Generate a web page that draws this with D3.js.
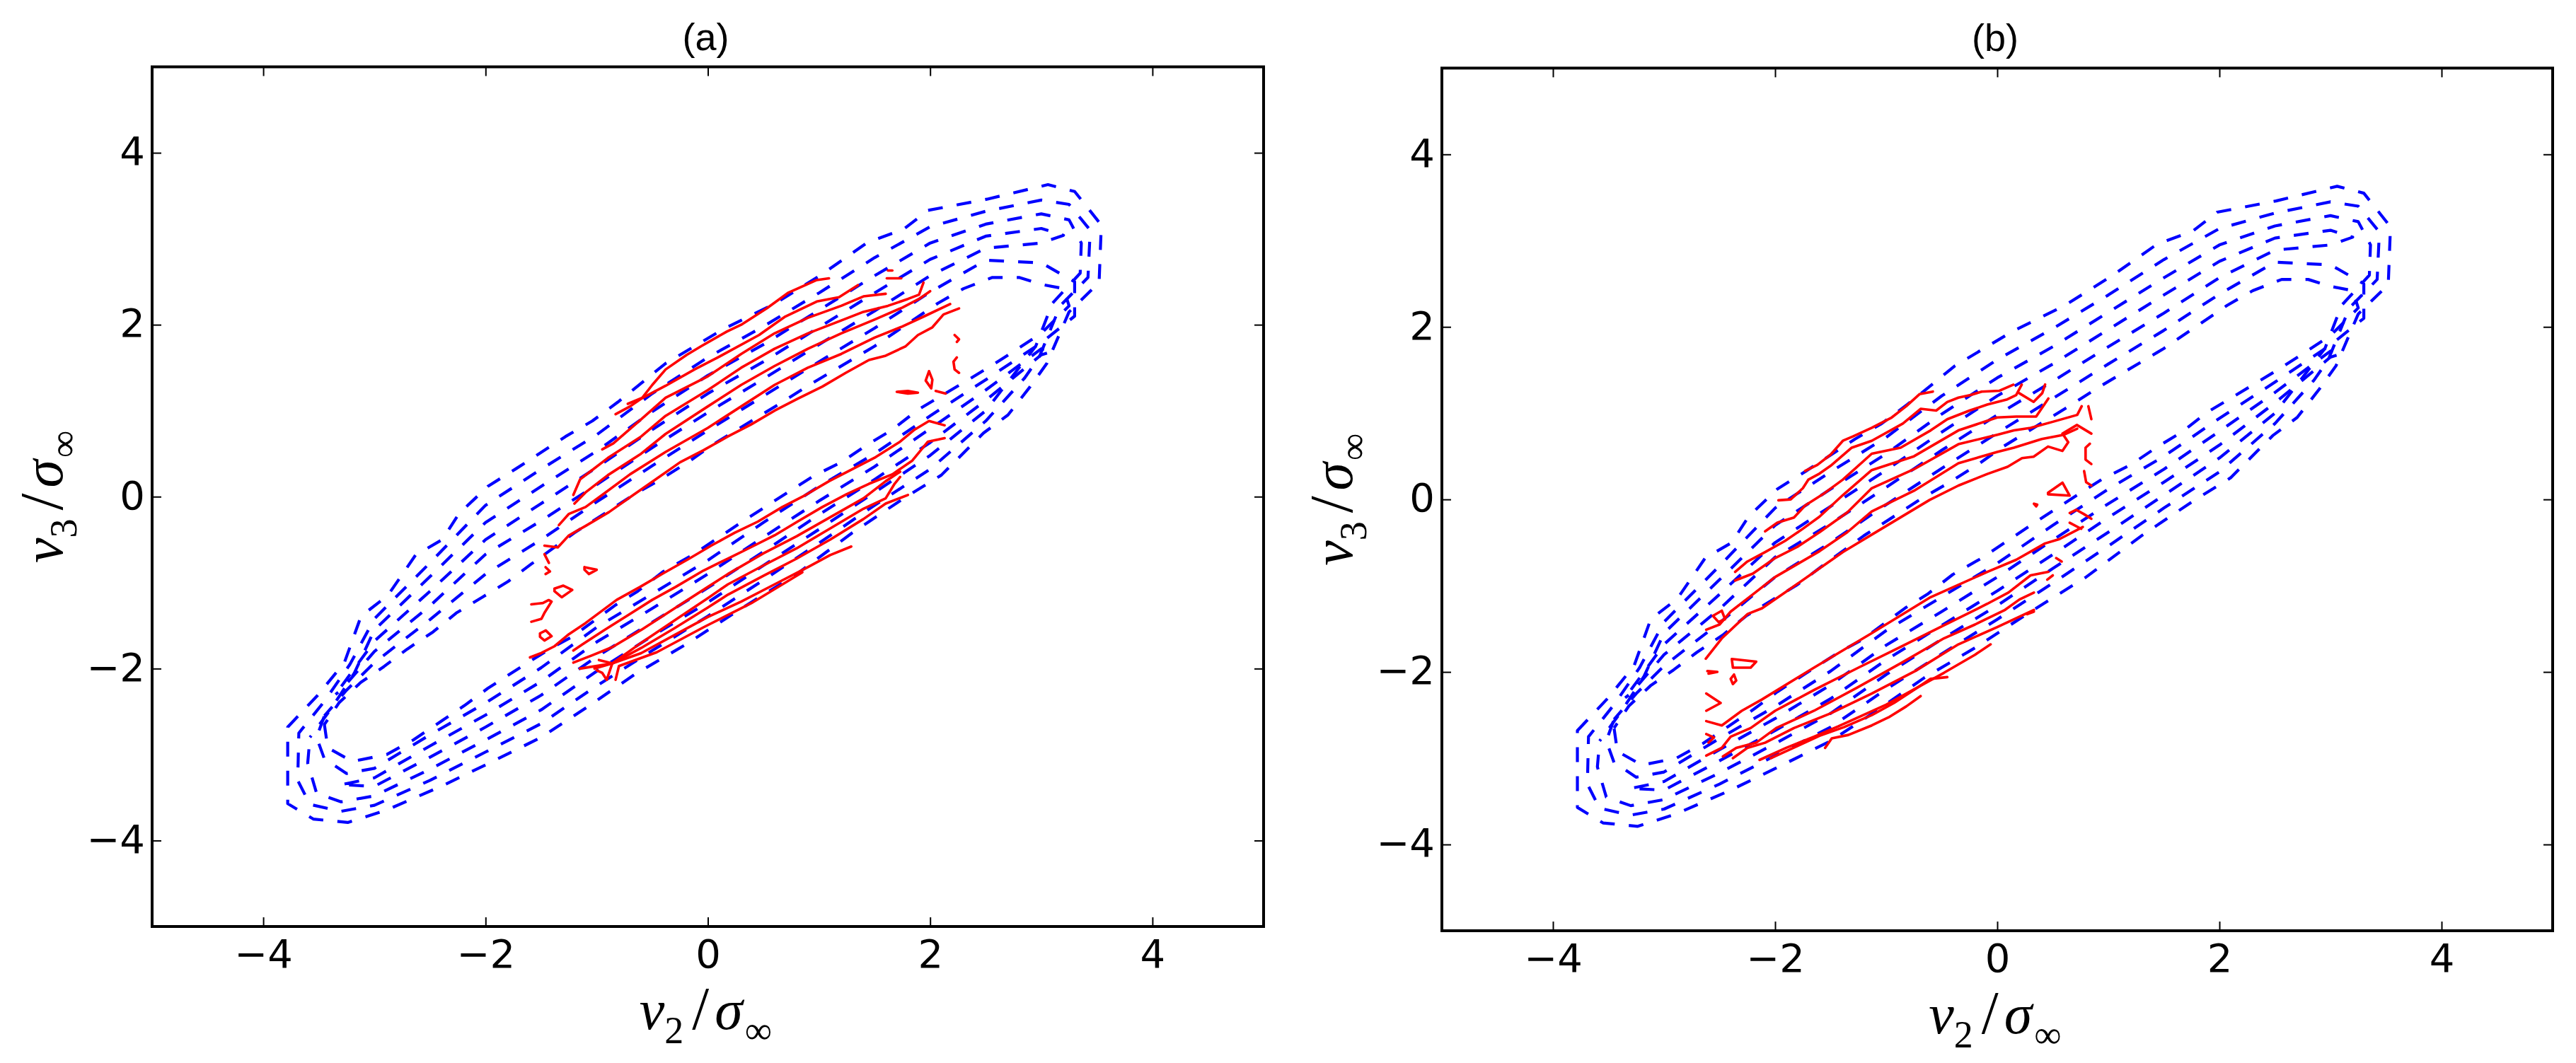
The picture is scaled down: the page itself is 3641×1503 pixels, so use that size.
<!DOCTYPE html>
<html>
<head>
<meta charset="utf-8">
<script src="https://cdn.jsdelivr.net/npm/d3@7"></script>
<style>
  html, body { margin: 0; padding: 0; background: #fff; }
  svg { display: block; }
</style>
</head>
<body>
<svg id="chart" width="3641" height="1503"></svg>
<script>
// ---------------- DATA ----------------
const xTickValues = [-4, -2, 0, 2, 4];
const yTickValues = [-4, -2, 0, 2, 4];
const panelLabels = ["(a)", "(b)"];
const axisDomain = [-5, 5];

// Blue dashed contours (same in both panels): closed loops, [v2, v3]
const blueOuter1 = [[-3.78,-2.68],[-3.51,-2.31],[-3.27,-1.93],[-3.12,-1.39],[-2.88,-1.15],[-2.63,-0.68],[-2.39,-0.5],[-2.24,-0.2],[-1.98,0.12],[-1.72,0.33],[-1.28,0.7],[-1.04,0.88],[-0.81,1.1],[-0.38,1.55],[0.14,1.95],[0.61,2.25],[1.03,2.59],[1.44,2.96],[1.76,3.11],[1.98,3.33],[2.51,3.46],[3.06,3.63],[3.3,3.55],[3.54,3.16],[3.52,2.49],[3.25,2.15],[3.05,1.55],[2.9,1.28],[2.7,0.95],[2.48,0.74],[2.1,0.25],[1.75,-0.03],[1.3,-0.42],[0.8,-0.9],[0.29,-1.31],[-0.2,-1.72],[-0.66,-2.07],[-1.1,-2.46],[-1.5,-2.8],[-2.0,-3.12],[-2.4,-3.37],[-2.9,-3.65],[-3.24,-3.79],[-3.55,-3.75],[-3.78,-3.57]];
const blueOuter2 = [[-3.68,-2.75],[-3.45,-2.38],[-3.22,-1.95],[-3.0,-1.42],[-2.5,-0.77],[-2.0,-0.1],[-1.5,0.32],[-1.0,0.72],[-0.5,1.2],[0,1.62],[0.5,1.98],[1.0,2.37],[1.5,2.78],[2.0,3.14],[2.5,3.32],[3.0,3.45],[3.25,3.4],[3.44,3.1],[3.42,2.55],[3.17,2.22],[2.98,1.62],[2.85,1.38],[2.5,0.88],[2.0,0.32],[1.5,-0.1],[1.0,-0.54],[0.5,-0.97],[0,-1.39],[-0.5,-1.79],[-1.0,-2.2],[-1.5,-2.64],[-2.0,-2.97],[-2.5,-3.3],[-3.0,-3.59],[-3.3,-3.66],[-3.58,-3.58],[-3.69,-3.3]];
const blueOuter3 = [[-3.58,-2.8],[-3.38,-2.45],[-3.18,-2.05],[-3.0,-1.55],[-2.5,-0.93],[-2.0,-0.3],[-1.5,0.12],[-1.0,0.53],[-0.5,0.99],[0,1.41],[0.5,1.77],[1.0,2.17],[1.5,2.57],[2.0,2.95],[2.5,3.17],[3.0,3.29],[3.25,3.22],[3.36,2.95],[3.35,2.6],[3.1,2.25],[2.95,1.75],[2.5,1.0],[2.0,0.48],[1.5,0.05],[1.0,-0.38],[0.5,-0.8],[0,-1.23],[-0.5,-1.62],[-1.0,-2.03],[-1.5,-2.48],[-2.0,-2.83],[-2.5,-3.17],[-3.0,-3.48],[-3.3,-3.55],[-3.52,-3.45],[-3.6,-3.1]];
const blueUpperRidge = [[-3.35,-2.3],[-3.0,-1.68],[-2.5,-1.1],[-2.0,-0.5],[-1.5,-0.08],[-1.0,0.34],[-0.5,0.78],[0,1.2],[0.5,1.57],[1.0,1.97],[1.5,2.37],[2.0,2.76],[2.5,3.03],[3.0,3.12],[3.2,3.04],[3.0,2.95],[2.5,2.89],[2.0,2.57],[1.5,2.16],[1.0,1.77],[0.5,1.37],[0,0.98],[-0.5,0.57],[-1.0,0.14],[-1.5,-0.28],[-2.0,-0.67],[-2.5,-1.27],[-3.0,-1.8],[-3.3,-2.25]];
const blueLowerRidge = [[-3.3,-3.35],[-3.0,-3.27],[-2.5,-2.9],[-2.0,-2.54],[-1.5,-2.15],[-1.0,-1.69],[-0.5,-1.3],[0,-0.9],[0.5,-0.47],[1.0,-0.05],[1.5,0.35],[2.0,0.79],[2.5,1.24],[3.0,1.72],[3.1,1.69],[3.0,1.65],[2.5,1.12],[2.0,0.63],[1.5,0.2],[1.0,-0.21],[0.5,-0.64],[0,-1.06],[-0.5,-1.46],[-1.0,-1.86],[-1.5,-2.31],[-2.0,-2.68],[-2.5,-3.03],[-3.0,-3.37]];
const blueInner2 = [[-3.45,-2.55],[-3.25,-2.25],[-3.0,-1.93],[-2.5,-1.43],[-2.0,-0.9],[-1.5,-0.5],[-1.0,-0.06],[-0.5,0.36],[0,0.77],[0.5,1.17],[1.0,1.57],[1.5,1.96],[2.0,2.38],[2.5,2.75],[3.0,2.72],[3.3,2.5],[3.3,2.1],[3.0,1.79],[2.5,1.36],[2.0,0.94],[1.5,0.5],[1.0,0.12],[0.5,-0.3],[0,-0.74],[-0.5,-1.13],[-1.0,-1.52],[-1.5,-1.99],[-2.0,-2.4],[-2.5,-2.77],[-3.0,-3.16],[-3.25,-3.22],[-3.45,-3.05],[-3.52,-2.8]];
const blueInner1 = [[-3.45,-2.65],[-3.317,-2.395],[-3.122,-2.16],[-2.914,-1.976],[-2.706,-1.774],[-2.472,-1.573],[-2.264,-1.354],[-2.03,-1.17],[-1.796,-0.985],[-1.588,-0.783],[-1.2,-0.42],[-0.91,-0.18],[-0.67,0.02],[-0.44,0.19],[-0.18,0.4],[0.05,0.61],[0.67,1.1],[0.9,1.29],[1.5,1.75],[2.07,2.25],[2.3,2.42],[2.56,2.55],[2.8,2.55],[3.0,2.47],[3.2,2.42],[3.25,2.22],[3.0,1.9],[2.8,1.73],[2.56,1.53],[2.33,1.35],[1.89,1.01],[1.66,0.78],[1.43,0.6],[1.2,0.4],[0.95,0.24],[0.73,0.06],[0.3,-0.3],[-0.14,-0.68],[-0.4,-0.87],[-0.63,-1.1],[-0.83,-1.26],[-1.22,-1.63],[-1.41,-1.76],[-1.74,-2.03],[-1.98,-2.23],[-2.19,-2.43],[-2.42,-2.63],[-2.65,-2.83],[-2.89,-3.0],[-3.2,-3.08],[-3.42,-2.92]];

// Red solid contours, panel (a)
const redUpperA = [
  [[-1.47,-0.57],[-1.35,-0.59],[-1.25,-0.45],[-1.1,-0.34],[-0.89,-0.18],[-0.67,0.02],[-0.46,0.21],[-0.25,0.4],[-0.04,0.54],[0.18,0.7],[0.39,0.84],[0.6,1.0],[0.81,1.14],[1.03,1.28],[1.24,1.44],[1.45,1.59],[1.6,1.64],[1.78,1.75],[1.89,1.88],[2.02,1.97],[2.12,2.12],[2.26,2.19]],
  [[-1.34,-0.33],[-1.25,-0.2],[-1.1,-0.12],[-0.95,0.02],[-0.7,0.26],[-0.38,0.52],[0.0,0.8],[0.3,1.05],[0.6,1.3],[0.9,1.5],[1.2,1.66],[1.5,1.85],[1.75,1.98],[1.95,2.1],[2.18,2.24]],
  [[-1.2,-0.08],[-1.1,0.05],[-0.9,0.25],[-0.6,0.5],[-0.38,0.73],[0.0,1.05],[0.3,1.3],[0.6,1.52],[0.9,1.72],[1.2,1.9],[1.5,2.06],[1.75,2.2],[1.9,2.3],[2.0,2.39]],
  [[-1.21,0.02],[-1.15,0.2],[-1.05,0.3],[-0.9,0.45],[-0.6,0.7],[-0.38,0.94],[0.0,1.24],[0.3,1.5],[0.6,1.72],[0.9,1.9],[1.2,2.05],[1.4,2.15],[1.62,2.22],[1.8,2.3],[1.9,2.35],[1.94,2.49]],
  [[-0.95,0.55],[-0.85,0.62],[-0.6,0.9],[-0.38,1.15],[0.0,1.4],[0.3,1.66],[0.6,1.9],[0.9,2.08],[1.2,2.22],[1.4,2.33],[1.6,2.36]],
  [[-0.83,0.96],[-0.7,1.05],[-0.6,1.14],[-0.38,1.29],[-0.12,1.48],[0.09,1.62],[0.46,1.88],[0.69,2.09],[0.98,2.27],[1.18,2.32],[1.35,2.46]],
  [[-0.72,1.08],[-0.59,1.15],[-0.5,1.3],[-0.38,1.48],[-0.19,1.65],[-0.06,1.75],[0.17,1.92],[0.3,2.0],[0.53,2.19],[0.72,2.37],[0.98,2.52],[1.09,2.54]]
];
const redLowerA = [
  [[-1.6,-1.87],[-1.5,-1.82],[-1.38,-1.74],[-1.25,-1.6],[-1.1,-1.47],[-0.82,-1.2],[-0.61,-1.05],[-0.4,-0.89],[-0.18,-0.73],[0.03,-0.57],[0.24,-0.42],[0.45,-0.29],[0.67,-0.12],[0.88,0.02],[1.09,0.18],[1.3,0.32],[1.51,0.46],[1.73,0.64],[1.86,0.78],[1.99,0.88],[2.13,0.83]],
  [[-1.21,-1.79],[-1.13,-1.72],[-0.93,-1.55],[-0.72,-1.38],[-0.5,-1.2],[-0.29,-1.05],[-0.04,-0.86],[0.18,-0.72],[0.4,-0.58],[0.6,-0.45],[0.82,-0.28],[1.03,-0.12],[1.25,0.03],[1.45,0.15],[1.66,0.26],[1.84,0.42],[1.98,0.64],[2.13,0.68]],
  [[-1.21,-1.93],[-1.05,-1.85],[-0.86,-1.75],[-0.6,-1.55],[-0.3,-1.3],[0.0,-1.05],[0.18,-0.9],[0.5,-0.66],[0.8,-0.46],[1.1,-0.24],[1.4,-0.02],[1.6,0.18],[1.73,0.29]],
  [[-1.15,-2.0],[-0.86,-1.94],[-0.6,-1.7],[-0.3,-1.44],[0.0,-1.18],[0.18,-1.02],[0.5,-0.8],[0.8,-0.6],[1.1,-0.37],[1.4,-0.14],[1.6,-0.02],[1.68,0.15],[1.73,0.23]],
  [[-1.02,-2.0],[-0.86,-1.94],[-0.6,-1.76],[-0.3,-1.53],[0.0,-1.29],[0.18,-1.14],[0.5,-0.92],[0.8,-0.72],[1.1,-0.5],[1.4,-0.26],[1.6,-0.08],[1.8,0.02]],
  [[-0.91,-2.13],[-0.86,-1.94],[-0.6,-1.82],[-0.3,-1.61],[0.0,-1.4],[0.3,-1.22],[0.6,-1.02],[0.9,-0.82],[1.1,-0.68],[1.29,-0.58]],
  [[-0.83,-2.13],[-0.8,-1.97],[-0.46,-1.81],[-0.04,-1.52],[0.39,-1.24],[0.85,-0.88]]
];
const redBitsA = [
  [[-1.11,-0.82],[-1.0,-0.85],[-1.07,-0.9],[-1.11,-0.85],[-1.11,-0.82]],
  [[-1.38,-1.07],[-1.3,-1.035],[-1.22,-1.085],[-1.315,-1.17],[-1.38,-1.1],[-1.38,-1.07]],
  [[-1.51,-1.59],[-1.458,-1.556],[-1.406,-1.623],[-1.47,-1.673],[-1.51,-1.63],[-1.51,-1.59]],
  [[-1.588,-1.253],[-1.484,-1.237],[-1.432,-1.203],[-1.406,-1.22],[-1.471,-1.354],[-1.497,-1.421],[-1.588,-1.455]],
  [[-1.47,-0.67],[-1.43,-0.77]],
  [[-1.46,-0.82],[-1.42,-0.87],[-1.46,-0.9]],
  [[-0.91,-2.13],[-0.95,-2.05],[-1.0,-2.02]],
  [[-0.86,-1.94],[-0.98,-1.9]],
  [[2.22,1.88],[2.26,1.83],[2.24,1.8]],
  [[2.24,1.62],[2.21,1.57],[2.22,1.48],[2.26,1.44]],
  [[1.99,1.46],[2.02,1.36],[2.01,1.26],[1.96,1.35],[1.99,1.46]],
  [[1.7,1.22],[1.8,1.23],[1.89,1.21],[1.8,1.2],[1.7,1.22]],
  [[2.05,1.23],[2.14,1.2]],
  [[1.62,2.63],[1.66,2.63]],
  [[1.61,2.54],[1.74,2.54]]
];

// Red solid contours, panel (b)
const redUpperB = [
  [[-2.624,-1.847],[-2.481,-1.612],[-2.247,-1.328],[-2.117,-1.261],[-1.909,-1.077],[-1.649,-0.843],[-1.389,-0.609],[-1.129,-0.408],[-0.869,-0.207],[-0.609,-0.006],[-0.349,0.161],[-0.089,0.295],[0.093,0.378],[0.223,0.479],[0.327,0.495],[0.457,0.613],[0.587,0.562],[0.639,0.663],[0.587,0.763],[0.717,0.863],[0.847,0.763]],
  [[-2.62,-1.51],[-2.5,-1.45],[-2.4,-1.3],[-2.2,-1.1],[-2.0,-0.9],[-1.8,-0.75],[-1.6,-0.6],[-1.35,-0.38],[-1.13,-0.14],[-0.75,0.1],[-0.35,0.42],[0.0,0.55],[0.15,0.6],[0.4,0.7],[0.6,0.75],[0.72,0.82]],
  [[-2.36,-0.94],[-2.2,-0.86],[-2.0,-0.68],[-1.8,-0.55],[-1.6,-0.38],[-1.35,-0.15],[-1.13,0.13],[-0.75,0.35],[-0.35,0.64],[0.0,0.75],[0.15,0.8],[0.3,0.83],[0.5,0.9],[0.72,0.98],[0.76,1.08]],
  [[-2.36,-0.84],[-2.25,-0.72],[-2.09,-0.61],[-1.91,-0.48],[-1.75,-0.34],[-1.6,-0.2],[-1.39,0.05],[-1.13,0.34],[-0.75,0.5],[-0.35,0.8],[0.0,0.95],[0.17,0.96],[0.35,0.96],[0.46,1.17]],
  [[-2.09,-0.37],[-1.98,-0.27],[-1.83,-0.21],[-1.73,-0.07],[-1.57,0.06],[-1.39,0.23],[-1.13,0.53],[-0.87,0.6],[-0.6,0.8],[-0.45,0.93],[-0.25,1.03],[-0.09,1.1],[0.09,1.16],[0.17,1.21],[0.22,1.33]],
  [[-1.97,-0.01],[-1.86,0.0],[-1.75,0.13],[-1.7,0.23],[-1.6,0.3],[-1.5,0.39],[-1.31,0.6],[-1.13,0.68],[-0.85,0.88],[-0.69,1.05],[-0.55,1.03],[-0.45,1.13],[-0.35,1.18],[-0.24,1.21],[-0.14,1.25],[0.02,1.26],[0.145,1.33]],
  [[-1.73,0.33],[-1.62,0.4],[-1.5,0.52],[-1.39,0.68],[-1.3,0.73],[-1.13,0.83],[-0.95,0.95],[-0.82,1.08],[-0.7,1.22],[-0.58,1.25]]
];
const redLowerB = [
  [[-2.62,-2.57],[-2.48,-2.62],[-2.3,-2.45],[-2.12,-2.32],[-1.65,-1.95],[-1.13,-1.55],[-0.61,-1.14],[-0.09,-0.84],[0.17,-0.7],[0.43,-0.51],[0.56,-0.46],[0.77,-0.32]],
  [[-2.62,-2.97],[-2.48,-2.88],[-2.4,-2.75],[-2.22,-2.65],[-2.0,-2.45],[-1.65,-2.21],[-1.25,-1.95],[-0.87,-1.71],[-0.48,-1.46],[-0.09,-1.21],[0.1,-1.08],[0.3,-0.88],[0.46,-0.84]],
  [[-2.47,-2.98],[-2.35,-2.88],[-2.17,-2.82],[-1.99,-2.65],[-1.65,-2.45],[-1.26,-2.18],[-0.87,-1.9],[-0.48,-1.61],[-0.2,-1.45],[0.07,-1.28],[0.2,-1.16],[0.33,-1.08]],
  [[-2.38,-3.0],[-2.25,-2.88],[-2.09,-2.82],[-1.83,-2.65],[-1.5,-2.48],[-1.13,-2.25],[-0.74,-1.99],[-0.35,-1.68],[0.0,-1.48],[0.33,-1.28]],
  [[-2.14,-3.02],[-1.9,-2.88],[-1.65,-2.75],[-1.43,-2.63],[-1.0,-2.38],[-0.48,-2.01],[-0.2,-1.8],[-0.06,-1.68]],
  [[-2.04,-3.0],[-1.8,-2.86],[-1.6,-2.74],[-1.38,-2.64],[-1.13,-2.5],[-0.93,-2.36],[-0.74,-2.2],[-0.6,-2.08],[-0.45,-2.06]],
  [[-1.55,-2.88],[-1.49,-2.77],[-1.34,-2.73],[-1.13,-2.62],[-0.97,-2.52],[-0.82,-2.4],[-0.69,-2.28]]
];
const redBitsB = [
  [[0.197,1.232],[0.327,1.131],[0.405,1.232],[0.431,1.332]],
  [[0.82,1.08],[0.847,0.93]],
  [[0.834,0.646],[0.795,0.6],[0.795,0.462],[0.847,0.41]],
  [[0.782,0.328],[0.8,0.2],[0.847,0.161]],
  [[0.457,0.077],[0.587,0.194],[0.652,0.044],[0.457,0.06],[0.457,0.077]],
  [[0.33,-0.05],[0.36,-0.06],[0.35,-0.08],[0.33,-0.05]],
  [[0.652,-0.157],[0.71,-0.12],[0.78,-0.17],[0.847,-0.224]],
  [[0.652,-0.27],[0.756,-0.341]],
  [[0.53,-0.68],[0.58,-0.72]],
  [[0.45,-0.93],[0.5,-0.88]],
  [[0.27,-1.33],[0.33,-1.3]],
  [[-2.56,-1.35],[-2.48,-1.29],[-2.45,-1.39],[-2.51,-1.42],[-2.56,-1.35]],
  [[-2.61,-1.99],[-2.52,-2.0],[-2.6,-2.02]],
  [[-2.39,-1.85],[-2.17,-1.88],[-2.22,-1.95],[-2.38,-1.95],[-2.39,-1.85]],
  [[-2.4,-2.08],[-2.37,-2.03],[-2.35,-2.1],[-2.38,-2.14],[-2.4,-2.08]],
  [[-2.62,-2.25],[-2.49,-2.36],[-2.62,-2.45]],
  [[-2.62,-2.72],[-2.55,-2.76],[-2.6,-2.82]]
];

const blueLoops = [blueOuter1, blueOuter2, blueOuter3, blueUpperRidge, blueLowerRidge, blueInner2, blueInner1];

// ---------------- LAYOUT ----------------
const panels = [
  { label: panelLabels[0], x0: 215, x1: 1786, y0: 94.5, y1: 1310, red: redUpperA.concat(redLowerA), bits: redBitsA },
  { label: panelLabels[1], x0: 2038, x1: 3608, y0: 96.3, y1: 1316, red: redUpperB.concat(redLowerB), bits: redBitsB }
];

const svg = d3.select("#chart");
svg.append("rect").attr("width", 3641).attr("height", 1503).attr("fill", "#fff");

const TICK_FONT = "'DejaVu Sans', sans-serif";
const MATH_FONT = "'Liberation Serif', 'DejaVu Serif', serif";

panels.forEach((p, i) => {
  const x = d3.scaleLinear().domain(axisDomain).range([p.x0, p.x1]);
  const y = d3.scaleLinear().domain(axisDomain).range([p.y1, p.y0]);
  const g = svg.append("g");

  const clipId = "clip" + i;
  svg.append("clipPath").attr("id", clipId)
    .append("rect").attr("x", p.x0).attr("y", p.y0)
    .attr("width", p.x1 - p.x0).attr("height", p.y1 - p.y0);

  const plot = g.append("g").attr("clip-path", `url(#${clipId})`);
  const closedLine = d3.line().x(d => x(d[0])).y(d => y(d[1])).curve(d3.curveLinearClosed);
  const openLine = d3.line().x(d => x(d[0])).y(d => y(d[1]));

  plot.selectAll("path.blue").data(blueLoops).join("path")
    .attr("class", "blue")
    .attr("d", closedLine)
    .attr("fill", "none")
    .attr("stroke", "#0000ff")
    .attr("stroke-width", 4.2)
    .attr("stroke-dasharray", "21,20")
    .attr("stroke-dashoffset", (d, k) => k * 9)
    .attr("stroke-linejoin", "round");

  plot.selectAll("path.red").data(p.red).join("path")
    .attr("class", "red")
    .attr("d", openLine)
    .attr("fill", "none")
    .attr("stroke", "#ff0000")
    .attr("stroke-width", 3.6)
    .attr("stroke-linejoin", "round")
    .attr("stroke-linecap", "round");

  plot.selectAll("path.redbit").data(p.bits).join("path")
    .attr("class", "redbit")
    .attr("d", openLine)
    .attr("fill", "none")
    .attr("stroke", "#ff0000")
    .attr("stroke-width", 3.6)
    .attr("stroke-linejoin", "round")
    .attr("stroke-linecap", "round");

  // Axes (ticks inward on all sides)
  const fmt = d3.format("d");
  const bottom = g.append("g").attr("transform", `translate(0,${p.y1})`)
    .call(d3.axisBottom(x).tickValues(xTickValues).tickFormat(fmt).tickSize(-13).tickSizeOuter(0).tickPadding(18));
  const left = g.append("g").attr("transform", `translate(${p.x0},0)`)
    .call(d3.axisLeft(y).tickValues(yTickValues).tickFormat(fmt).tickSize(-13).tickSizeOuter(0).tickPadding(10));
  const top = g.append("g").attr("transform", `translate(0,${p.y0})`)
    .call(d3.axisTop(x).tickValues(xTickValues).tickFormat("").tickSize(-13).tickSizeOuter(0));
  const right = g.append("g").attr("transform", `translate(${p.x1},0)`)
    .call(d3.axisRight(y).tickValues(yTickValues).tickFormat("").tickSize(-13).tickSizeOuter(0));

  [bottom, left, top, right].forEach(a => {
    a.select(".domain").remove();
    a.selectAll(".tick line").attr("stroke", "#000").attr("stroke-width", 2);
    a.selectAll(".tick text").attr("fill", "#000")
      .style("font-family", TICK_FONT).style("font-size", "56px");
  });
  left.selectAll(".tick text").attr("dy", "0.3em");

  // Frame
  g.append("rect").attr("x", p.x0).attr("y", p.y0)
    .attr("width", p.x1 - p.x0).attr("height", p.y1 - p.y0)
    .attr("fill", "none").attr("stroke", "#000").attr("stroke-width", 4);

  // Title
  const cx = (p.x0 + p.x1) / 2;
  g.append("text").attr("x", cx - 3).attr("y", p.y0 - 24)
    .attr("text-anchor", "middle")
    .style("font-family", "'Liberation Sans', Arial, sans-serif")
    .style("font-size", "54px").attr("fill", "#000")
    .text(p.label);

  // X label: v2 / sigma_inf
  const xl = g.append("text").attr("x", cx - 3).attr("y", p.y1 + 145)
    .attr("text-anchor", "middle").attr("fill", "#000")
    .style("font-family", MATH_FONT).style("font-size", "80px");
  xl.append("tspan").style("font-style", "italic").text("v");
  xl.append("tspan").style("font-size", "54px").attr("dy", 20).text("2");
  xl.append("tspan").style("font-size", "86px").attr("dx", 12).attr("dy", -20).text("/");
  xl.append("tspan").style("font-style", "italic").attr("dx", 8).text("σ");
  xl.append("tspan").style("font-size", "54px").attr("dx", 3).attr("dy", 20).text("∞");

  // Y label: v3 / sigma_inf (rotated)
  const yl = g.append("text")
    .attr("transform", `translate(${p.x0 - 127},${(p.y0 + p.y1) / 2}) rotate(-90)`)
    .attr("text-anchor", "middle").attr("fill", "#000")
    .style("font-family", MATH_FONT).style("font-size", "80px");
  yl.append("tspan").style("font-style", "italic").text("v");
  yl.append("tspan").style("font-size", "54px").attr("dy", 20).text("3");
  yl.append("tspan").style("font-size", "86px").attr("dx", 12).attr("dy", -20).text("/");
  yl.append("tspan").style("font-style", "italic").attr("dx", 8).text("σ");
  yl.append("tspan").style("font-size", "54px").attr("dx", 3).attr("dy", 20).text("∞");
});
</script>
</body>
</html>
